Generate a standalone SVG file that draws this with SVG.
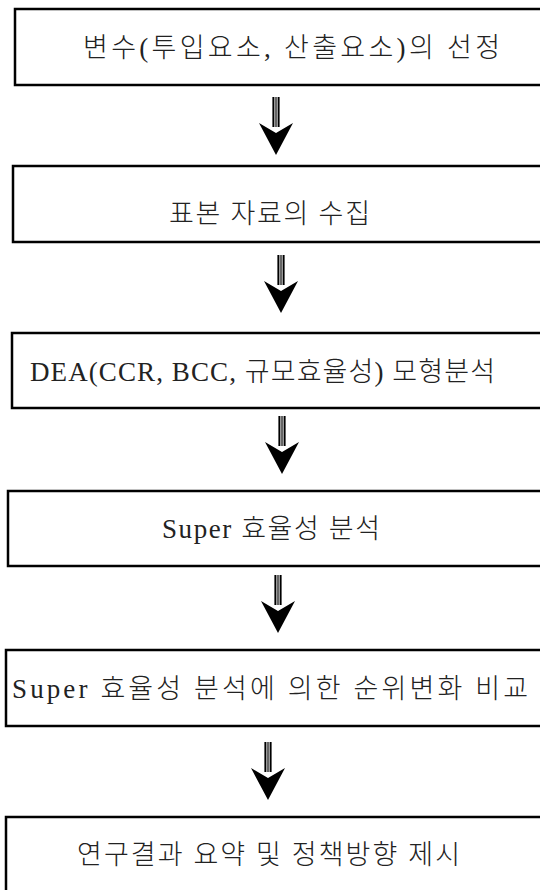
<svg xmlns="http://www.w3.org/2000/svg" xmlns:xlink="http://www.w3.org/1999/xlink" width="540" height="890" viewBox="0 0 540 890">
<style>
.box{fill:#fff;stroke:#000;stroke-width:2.5}
.lbl{font-family:"Liberation Serif","Noto Sans CJK KR",serif;font-size:27px;font-weight:300;fill:#222;text-anchor:start}
</style>
<defs>
<g id="arrow">
<rect x="-3.5" y="0" width="7" height="30" fill="#999"/>
<line x1="-2.75" y1="0" x2="-2.75" y2="30" stroke="#000" stroke-width="1.5"/>
<line x1="2.75" y1="0" x2="2.75" y2="30" stroke="#000" stroke-width="1.5"/>
<line x1="0" y1="0" x2="0" y2="30" stroke="#333" stroke-width="1"/>
<path d="M-17,26 L0,36 L17,26 L0,58 Z" fill="#000"/>
</g>
</defs>
<rect width="540" height="890" fill="#fff"/>
<g id="connectors">
<use xlink:href="#arrow" x="276" y="97"/>
<use xlink:href="#arrow" x="281" y="255"/>
<use xlink:href="#arrow" x="282" y="416"/>
<use xlink:href="#arrow" x="278" y="575"/>
<use xlink:href="#arrow" x="268" y="742"/>
</g>
<g id="n1">
<rect class="box" x="15" y="9" width="545" height="76"/>
<text class="lbl" x="83" y="57" textLength="417" lengthAdjust="spacing">변수(투입요소, 산출요소)의 선정</text>
</g>
<g id="n2">
<rect class="box" x="13" y="166" width="547" height="76"/>
<text class="lbl" x="169" y="223" textLength="201" lengthAdjust="spacing">표본 자료의 수집</text>
</g>
<g id="n3">
<rect class="box" x="12" y="333" width="548" height="75"/>
<text class="lbl" x="30" y="381" textLength="465" lengthAdjust="spacing">DEA(CCR, BCC, 규모효율성) 모형분석</text>
</g>
<g id="n4">
<rect class="box" x="8" y="491" width="552" height="75"/>
<text class="lbl" x="162" y="538" textLength="218" lengthAdjust="spacing">Super 효율성 분석</text>
</g>
<g id="n5">
<rect class="box" x="6" y="650" width="554" height="76"/>
<text class="lbl" x="12" y="698" textLength="516" lengthAdjust="spacing">Super 효율성 분석에 의한 순위변화 비교</text>
</g>
<g id="n6">
<rect class="box" x="6" y="817" width="554" height="90"/>
<text class="lbl" x="77" y="864" textLength="383" lengthAdjust="spacing">연구결과 요약 및 정책방향 제시</text>
</g>
</svg>
